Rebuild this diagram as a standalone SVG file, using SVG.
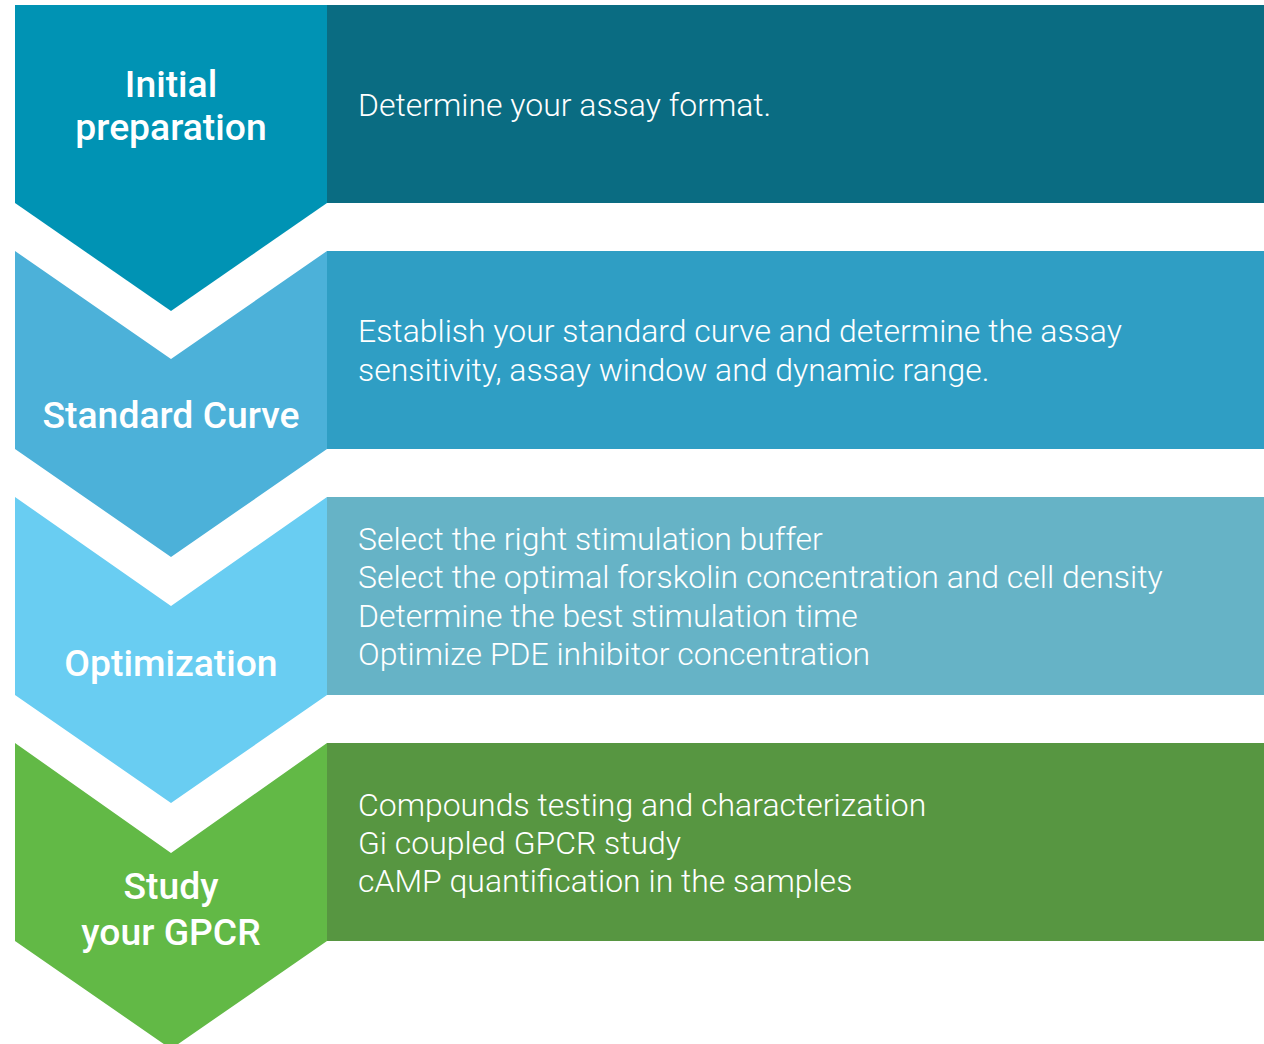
<svg xmlns="http://www.w3.org/2000/svg" width="1264" height="1044" viewBox="0 0 1264 1044">
<style>
.h{font-family:Roboto,"Liberation Sans",sans-serif;font-weight:500;font-size:37.3px;fill:#fff;text-anchor:middle}
.b{font-family:Roboto,"Liberation Sans",sans-serif;font-weight:300;font-size:31.95px;fill:#fff}
</style>
<rect width="1264" height="1044" fill="#fff"/>
<g id="step1">
<rect x="327" y="5" width="937" height="198" fill="#0a6c82"/>
<polygon points="15,5 327,5 327,203 171,311 15,203" fill="#0093b4"/>
<text class="h" x="171" y="97">Initial</text>
<text class="h" x="171" y="140">preparation</text>
<text class="b" x="358" y="116">Determine your assay format.</text>
</g>
<g id="step2">
<rect x="327" y="251" width="937" height="198" fill="#2f9ec4"/>
<polygon points="15,251 171,359 327,251 327,449 171,557 15,449" fill="#4cb1d9"/>
<text class="h" x="171" y="428">Standard Curve</text>
<text class="b" x="358" y="342">Establish your standard curve and determine the assay</text>
<text class="b" x="358" y="381">sensitivity, assay window and dynamic range.</text>
</g>
<g id="step3">
<rect x="327" y="497" width="937" height="198" fill="#66b3c6"/>
<polygon points="15,497 171,606 327,497 327,695 171,803 15,695" fill="#69cdf2"/>
<text class="h" x="171" y="676">Optimization</text>
<text class="b" x="358" y="550">Select the right stimulation buffer</text>
<text class="b" x="358" y="588">Select the optimal forskolin concentration and cell density</text>
<text class="b" x="358" y="627">Determine the best stimulation time</text>
<text class="b" x="358" y="665">Optimize PDE inhibitor concentration</text>
</g>
<g id="step4">
<rect x="327" y="743" width="937" height="198" fill="#579641"/>
<polygon points="15,743 171,853 327,743 327,941 171,1049 15,941" fill="#62b946"/>
<text class="h" x="171" y="899">Study</text>
<text class="h" x="171" y="945">your GPCR</text>
<text class="b" x="358" y="816">Compounds testing and characterization</text>
<text class="b" x="358" y="854">Gi coupled GPCR study</text>
<text class="b" x="358" y="892">cAMP quantification in the samples</text>
</g>
<g id="connectors"></g>
</svg>
